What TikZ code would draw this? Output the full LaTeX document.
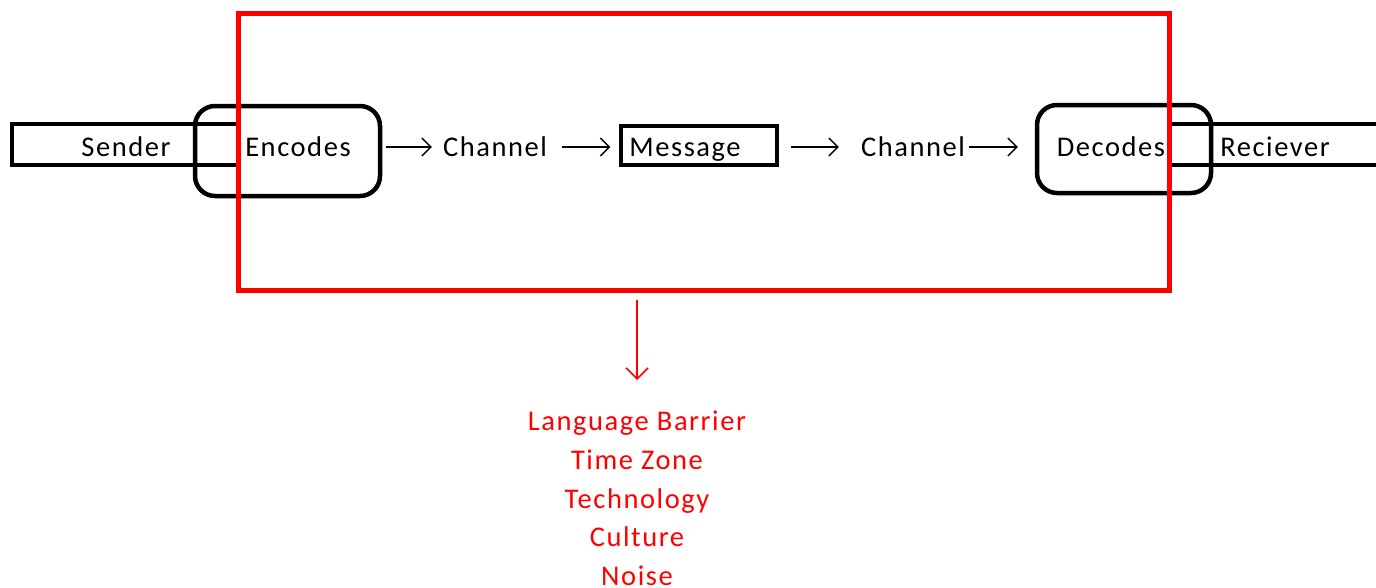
\documentclass[tikz,border=0pt]{standalone}
\usepackage{fontspec}
\setmainfont{Carlito}[LetterSpace=5.5]
\usetikzlibrary{arrows.meta}
\definecolor{pptred}{RGB}{255,0,0}
\tikzset{
  lbl/.style={inner sep=0pt, anchor=base, font=\fontsize{28.5}{34}\selectfont},
  roundbox/.style={draw, line width=4.5pt, rounded corners=20pt},
  plainbox/.style={draw, line width=3.5pt},
  arr/.style={line width=1.4pt, -{Straight Barb[length=9pt,width=18pt,line width=1.4pt]}},
  redarr/.style={pptred, line width=1.6pt, -{Straight Barb[length=11pt,width=22pt,line width=1.6pt]}},
}
\begin{document}
\begin{tikzpicture}[x=1pt,y=-1pt]
\useasboundingbox (0,0) rectangle (1376,587);
% Sender open box
\draw[plainbox] (238,124) -- (12,124) -- (12,165) -- (238,165);
\node[lbl] (snd) at (126,156.5) {Sender};
% Receiver open box
\draw[plainbox] (1169,124) -- (1376,124);
\draw[plainbox] (1169,165) -- (1376,165);
\node[lbl] (rcv) at (1275,156.5) {Reciever};
% Encodes / Decodes
\node[roundbox, minimum width=185pt, minimum height=90pt] (enc) at (287.5,151) {};
\node[lbl] (enct) at (298,156.5) {Encodes};
\node[roundbox, minimum width=174pt, minimum height=88pt] (dec) at (1124,149) {};
\node[lbl] (dect) at (1111,156.5) {Decodes};
% Message
\node[plainbox, minimum width=156pt, minimum height=39pt] (msg) at (699,145.5) {};
\node[lbl] (msgt) at (685,156.5) {Message};
% Channels
\node[lbl] (ch1) at (495,156.5) {Channel};
\node[lbl] (ch2) at (913,156.5) {Channel};
% arrows
\coordinate (ay) at (0,147);
\draw[arr] ([xshift=4pt]enc.east |- ay) -- ([xshift=-11pt]ch1.west |- ay);
\draw[arr] ([xshift=15pt]ch1.east |- ay) -- ([xshift=-9pt]msg.west |- ay);
\draw[arr] ([xshift=12pt]msg.east |- ay) -- ([xshift=-22pt]ch2.west |- ay);
\draw[arr] ([xshift=4pt]ch2.east |- ay) -- ([xshift=-17pt]dec.west |- ay);
% red frame
\node[draw=pptred, line width=5pt, minimum width=931pt, minimum height=277pt] (frame) at (703.5,151.5) {};
% noise list
\node[inner sep=0pt, text=pptred, align=center, anchor=north, font=\fontsize{28.5}{38.6}\selectfont] (noise) at (637,411) {Language Barrier\\Time Zone\\Technology\\Culture\\Noise};
\draw[redarr] ([yshift=-7pt]frame.south -| noise.north) -- ([yshift=31pt]noise.north);
\end{tikzpicture}
\end{document}
